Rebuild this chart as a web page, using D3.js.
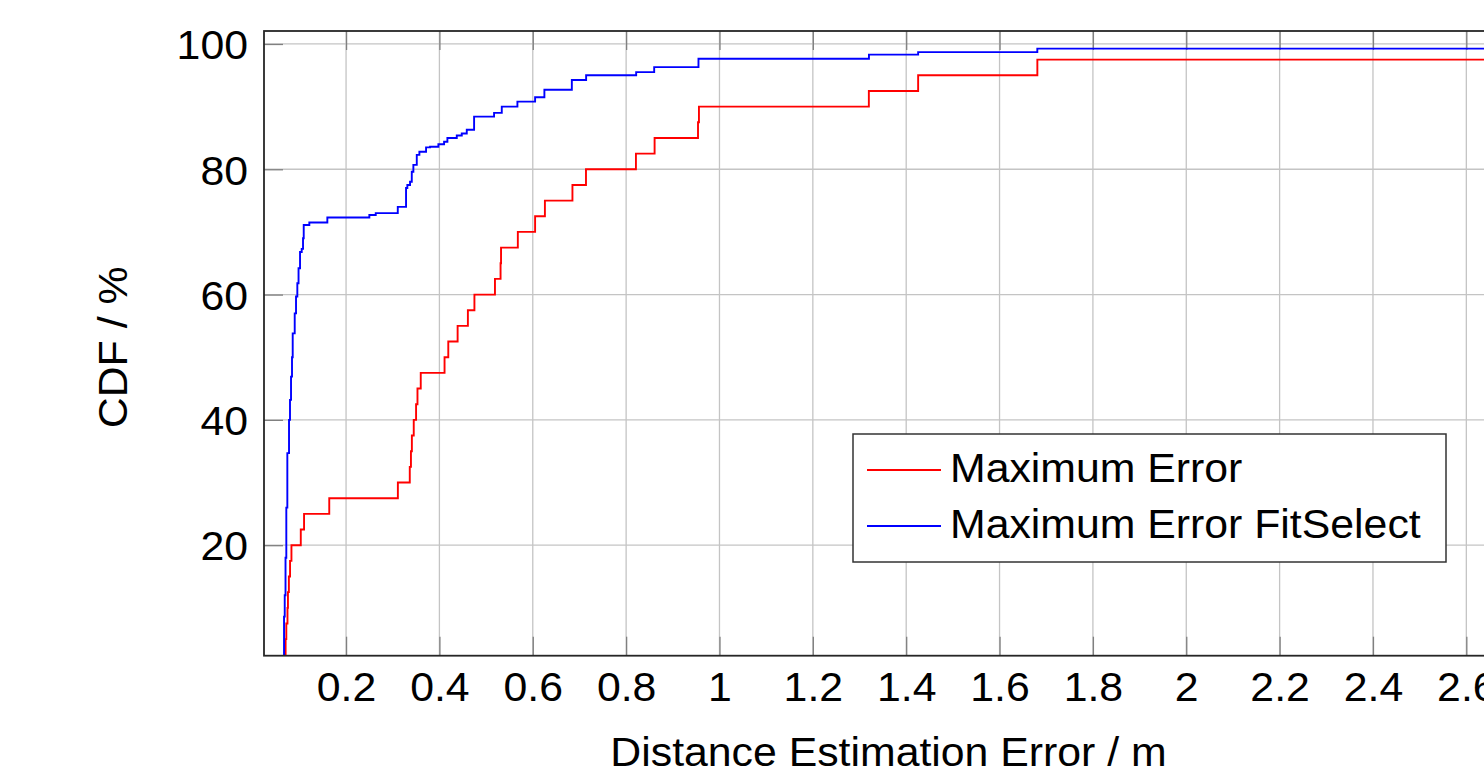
<!DOCTYPE html>
<html>
<head>
<meta charset="utf-8">
<script src="https://cdn.jsdelivr.net/npm/d3@7"></script>
<style>
  html, body { margin: 0; padding: 0; background: #fff; overflow: hidden; }
  svg { display: block; }
  text { font-family: "Liberation Sans", Arial, Helvetica, sans-serif; fill: #000; }
</style>
</head>
<body>
<svg id="chart" width="1484" height="781"></svg>
<script>
// ---- data ----
const xTicks = [0.2, 0.4, 0.6, 0.8, 1, 1.2, 1.4, 1.6, 1.8, 2, 2.2, 2.4, 2.6];
const xTickLabels = ["0.2","0.4","0.6","0.8","1","1.2","1.4","1.6","1.8","2","2.2","2.4","2.6"];
const yTicks = [20, 40, 60, 80, 100];
const yTickLabels = ["20","40","60","80","100"];

const seriesNames = ["Maximum Error", "Maximum Error FitSelect"];

// Maximum Error (step CDF: value jumps to y at x)
const redX = [0.0685,0.0705,0.0720,0.0745,0.0755,0.0775,0.0800,0.0830,0.1030,0.1100,0.1640,0.3110,0.3365,0.3390,0.3410,0.3450,0.3500,0.3530,0.3600,0.4110,0.4190,0.4390,0.4610,0.4750,0.5190,0.5310,0.5320,0.5680,0.6050,0.6260,0.6850,0.7140,0.8210,0.8610,0.9540,0.9560,1.3200,1.4256,1.6810];
const redY = [2.5,5,7.5,10,12.5,15,17.5,20,22.5,25,27.5,30,32.5,35,37.5,40,42.5,45,47.5,50,52.5,55,57.5,60,62.5,65,67.5,70,72.5,75,77.5,80,82.5,85,87.5,90,92.5,95,97.5];

// Maximum Error FitSelect
const blueX = [0.0656,0.0671,0.0686,0.0703,0.0720,0.0742,0.0778,0.0799,0.0821,0.0842,0.0857,0.0900,0.0928,0.0956,0.0982,0.1014,0.1050,0.1078,0.1093,0.1213,0.1599,0.2499,0.2636,0.3108,0.3285,0.3313,0.3371,0.3408,0.3442,0.3515,0.3571,0.3714,0.3800,0.3978,0.4100,0.4171,0.4372,0.4479,0.4586,0.4743,0.5171,0.5336,0.5671,0.6050,0.6249,0.6837,0.7143,0.8215,0.8601,0.9550,1.3202,1.4256,1.6809];
const blueY = [2.4,8.6,12,18,26,34.7,40,43.2,46.9,50,53.8,57.0,59.7,61.8,64.2,66.8,67.3,69,71.1,71.5,72.3,72.7,73.0,74.0,77.0,77.5,78.0,79.6,80.7,82.3,82.8,83.5,83.6,84.0,84.4,85.0,85.4,85.7,86.3,88.4,89.0,90.0,90.8,91.5,92.7,94.25,95.0,95.5,96.3,97.65,98.3,98.7,99.25];

const xDomain = [0.0242, 2.70];
const yDomain = [2.36, 102.07];

// ---- layout ----
const svg = d3.select("#chart");
const L = 264, T = 31, R = 1513, B = 655.7;
const FS = 40;
const SX = 1.07; // horizontal glyph stretch of the reference's font

const x = d3.scaleLinear().domain(xDomain).range([L, R]);
const y = d3.scaleLinear().domain(yDomain).range([B, T]);

svg.append("defs").append("clipPath").attr("id", "plotclip")
  .append("rect").attr("x", L).attr("y", T).attr("width", R - L).attr("height", B - T);

// grid
const grid = svg.append("g");
grid.selectAll(".gx").data(xTicks).join("line")
  .attr("x1", d => x(d)).attr("x2", d => x(d)).attr("y1", T).attr("y2", B)
  .attr("stroke", "#c4c4c4").attr("stroke-width", 1.3);
grid.selectAll(".gy").data(yTicks).join("line")
  .attr("x1", L).attr("x2", R).attr("y1", d => y(d)).attr("y2", d => y(d))
  .attr("stroke", "#c4c4c4").attr("stroke-width", 1.3);

// inner tick marks (pgfplots style) via d3 axes
const tickLen = 19;
const axB = svg.append("g").attr("transform", `translate(0,${B})`)
  .call(d3.axisBottom(x).tickValues(xTicks).tickSizeInner(-tickLen).tickSizeOuter(0).tickFormat((d, i) => xTickLabels[i]));
const axT = svg.append("g").attr("transform", `translate(0,${T})`)
  .call(d3.axisTop(x).tickValues(xTicks).tickSizeInner(-tickLen).tickSizeOuter(0).tickFormat(""));
const axL = svg.append("g").attr("transform", `translate(${L},0)`)
  .call(d3.axisLeft(y).tickValues(yTicks).tickSizeInner(-tickLen).tickSizeOuter(0).tickFormat((d, i) => yTickLabels[i]));
const axR = svg.append("g").attr("transform", `translate(${R},0)`)
  .call(d3.axisRight(y).tickValues(yTicks).tickSizeInner(-tickLen).tickSizeOuter(0).tickFormat(""));

[axB, axT, axL, axR].forEach(a => {
  a.select(".domain").remove();
  a.selectAll(".tick line").attr("stroke", "#808080").attr("stroke-width", 1.3);
  a.selectAll(".tick text").style("font-size", FS + "px")
    .style("font-family", '"Liberation Sans", Arial, Helvetica, sans-serif').attr("fill", "#000");
});
axB.selectAll(".tick text").attr("x", 0).attr("y", 0).attr("dy", 0)
  .attr("transform", `translate(0,45.5) scale(${SX},1)`);
axL.selectAll(".tick text").attr("x", 0).attr("dy", "0.37em")
  .attr("transform", `translate(-16,0) scale(${SX},1)`);

// series
const line = d3.line().x(d => x(d[0])).y(d => y(d[1])).curve(d3.curveStepAfter);
const redPts = redX.map((v, i) => [v, redY[i]]);
redPts.push([xDomain[1] + 0.1, redY[redY.length - 1]]);
const bluePts = blueX.map((v, i) => [v, blueY[i]]);
bluePts.push([xDomain[1] + 0.1, blueY[blueY.length - 1]]);

const plot = svg.append("g").attr("clip-path", "url(#plotclip)");
plot.append("path").attr("d", line(redPts)).attr("fill", "none")
  .attr("stroke", "#ff0000").attr("stroke-width", 1.9);
plot.append("path").attr("d", line(bluePts)).attr("fill", "none")
  .attr("stroke", "#0000ff").attr("stroke-width", 1.9);

// frame
svg.append("rect").attr("x", L).attr("y", T).attr("width", R - L).attr("height", B - T)
  .attr("fill", "none").attr("stroke", "#262626").attr("stroke-width", 1.8);

// axis labels
svg.append("text").attr("transform", `translate(${(L + R) / 2},766) scale(${SX},1)`)
  .attr("text-anchor", "middle").style("font-size", FS + "px").text("Distance Estimation Error / m");
svg.append("text").attr("transform", `translate(127,${(T + B) / 2 + 4}) rotate(-90) scale(${SX},1)`)
  .attr("text-anchor", "middle").style("font-size", FS + "px").text("CDF / %");

// legend
const lg = svg.append("g");
lg.append("rect").attr("x", 853).attr("y", 434).attr("width", 593).attr("height", 128)
  .attr("fill", "#fff").attr("stroke", "#333").attr("stroke-width", 1.5);
const colors = ["#ff0000", "#0000ff"];
seriesNames.forEach((name, i) => {
  const cy = 470 + i * 56;
  lg.append("line").attr("x1", 867).attr("x2", 941).attr("y1", cy).attr("y2", cy)
    .attr("stroke", colors[i]).attr("stroke-width", 1.9);
  lg.append("text").attr("transform", `translate(950,${cy + 11.7}) scale(${SX},1)`)
    .style("font-size", FS + "px").text(name);
});
</script>
</body>
</html>
